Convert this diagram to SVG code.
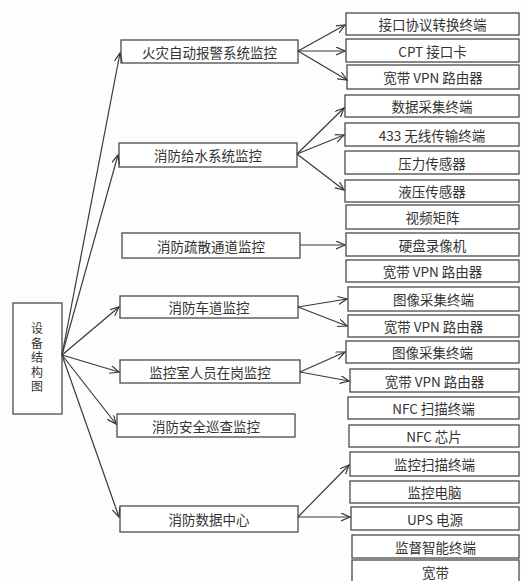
<svg xmlns="http://www.w3.org/2000/svg" width="521" height="581" viewBox="0 0 521 581">
<defs>
<marker id="arr" markerUnits="userSpaceOnUse" markerWidth="12" markerHeight="10" refX="9" refY="4" orient="auto">
<path d="M0,0 L9,4 L0,8" fill="none" stroke="#3a3a3a" stroke-width="1.2"/>
</marker>
</defs>
<style>
rect{fill:#fff;stroke:#4a4a4a;stroke-width:1.3}
text{font-family:"Noto Sans CJK SC","Noto Sans",sans-serif;font-size:13.5px;fill:#333;text-anchor:middle;dominant-baseline:central}
.v{font-size:12px;writing-mode:vertical-rl;text-orientation:upright;letter-spacing:2.5px}
.c line{stroke:#3a3a3a;stroke-width:1.2;marker-end:url(#arr)}
</style>
<rect x="0" y="0" width="521" height="581" style="fill:#fdfdfd;stroke:none"/>
<g id="root"><rect x="13" y="303" width="49" height="111"/>
<text class="v" x="37" y="359">设备结构图</text></g>
<g id="m1"><rect x="121" y="40" width="177" height="23"/><text x="209.5" y="51.5">火灾自动报警系统监控</text></g>
<g id="m2"><rect x="119" y="143" width="178" height="24"/><text x="208" y="155">消防给水系统监控</text></g>
<g id="m3"><rect x="122" y="233" width="178" height="25"/><text x="211" y="245.5">消防疏散通道监控</text></g>
<g id="m4"><rect x="120" y="296" width="178" height="22"/><text x="209" y="307">消防车道监控</text></g>
<g id="m5"><rect x="120" y="360" width="180" height="23"/><text x="210" y="371.5">监控室人员在岗监控</text></g>
<g id="m6"><rect x="117" y="414" width="178" height="23"/><text x="206" y="425.5">消防安全巡查监控</text></g>
<g id="m7"><rect x="120" y="506" width="178" height="26"/><text x="209" y="519">消防数据中心</text></g>
<g id="a"><rect x="346" y="13" width="173" height="22"/><text x="432.5" y="24">接口协议转换终端</text></g>
<g id="b"><rect x="346" y="39" width="173" height="23"/><text x="432.5" y="50.5">CPT 接口卡</text></g>
<g id="c"><rect x="347" y="65" width="172" height="24"/><text x="433" y="77">宽带 VPN 路由器</text></g>
<g id="d"><rect x="345" y="95" width="174" height="22"/><text x="432" y="106">数据采集终端</text></g>
<g id="e"><rect x="345" y="123" width="174" height="23"/><text x="432" y="134.5">433 无线传输终端</text></g>
<g id="f"><rect x="345" y="151" width="174" height="23"/><text x="432" y="162.5">压力传感器</text></g>
<g id="g"><rect x="345" y="180" width="174" height="22"/><text x="432" y="191">液压传感器</text></g>
<g id="h"><rect x="346" y="205" width="173" height="24"/><text x="432.5" y="217">视频矩阵</text></g>
<g id="i"><rect x="346" y="233" width="173" height="23"/><text x="432.5" y="244.5">硬盘录像机</text></g>
<g id="j"><rect x="346" y="260" width="173" height="22"/><text x="432.5" y="271">宽带 VPN 路由器</text></g>
<g id="k"><rect x="348" y="287" width="171" height="24"/><text x="433.5" y="299">图像采集终端</text></g>
<g id="l"><rect x="348" y="315" width="171" height="22"/><text x="433.5" y="326">宽带 VPN 路由器</text></g>
<g id="m"><rect x="346" y="341" width="173" height="22"/><text x="432.5" y="352">图像采集终端</text></g>
<g id="n"><rect x="350" y="369" width="169" height="23"/><text x="434.5" y="380.5">宽带 VPN 路由器</text></g>
<g id="o"><rect x="348" y="397" width="171" height="22"/><text x="433.5" y="408">NFC 扫描终端</text></g>
<g id="p"><rect x="349" y="425" width="170" height="22"/><text x="434" y="436">NFC 芯片</text></g>
<g id="q"><rect x="350" y="452" width="169" height="24"/><text x="434.5" y="464">监控扫描终端</text></g>
<g id="r"><rect x="350" y="481" width="169" height="22"/><text x="434.5" y="492">监控电脑</text></g>
<g id="s"><rect x="351" y="507" width="168" height="23"/><text x="435" y="518.5">UPS 电源</text></g>
<g id="t"><rect x="352" y="535" width="167" height="23"/><text x="435.5" y="546.5">监督智能终端</text></g>
<g id="u"><rect x="352" y="560" width="167" height="26"/><text x="435.5" y="572">宽带</text></g>
<g class="c" id="connectors">
<line x1="62" y1="355" x2="120" y2="53"/>
<line x1="62" y1="355" x2="118" y2="155"/>
<line x1="62" y1="355" x2="119" y2="307"/>
<line x1="62" y1="355" x2="119" y2="372"/>
<line x1="62" y1="355" x2="116" y2="424"/>
<line x1="62" y1="355" x2="119" y2="517"/>
<line x1="298" y1="51" x2="345" y2="25"/>
<line x1="298" y1="51" x2="345" y2="51"/>
<line x1="298" y1="51" x2="347" y2="80"/>
<line x1="297" y1="154" x2="344" y2="108"/>
<line x1="297" y1="154" x2="344" y2="135"/>
<line x1="297" y1="154" x2="344" y2="190"/>
<line x1="300" y1="245" x2="345" y2="245"/>
<line x1="298" y1="307" x2="347" y2="299"/>
<line x1="298" y1="307" x2="347" y2="326"/>
<line x1="300" y1="372" x2="345" y2="352"/>
<line x1="300" y1="372" x2="349" y2="381"/>
<line x1="298" y1="517" x2="349" y2="465"/>
<line x1="298" y1="517" x2="350" y2="517"/>
</g>
</svg>
